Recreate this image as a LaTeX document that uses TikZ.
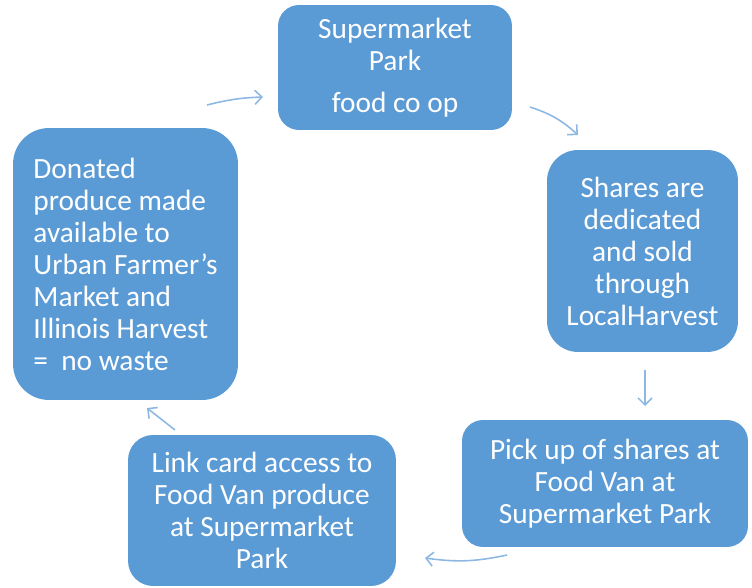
\documentclass[tikz,border=0pt]{standalone}
\usepackage{fontspec}
\setmainfont{Carlito}
\usetikzlibrary{arrows.meta}
\definecolor{boxblue}{HTML}{5B9BD5}
\definecolor{arrowblue}{HTML}{8DB8E4}

\begin{document}
\begin{tikzpicture}[
  x=0.02cm, y=-0.02cm,
  box/.style={fill=boxblue, text=white, align=center, inner sep=0pt,
    font=\fontsize{16.7}{18.2}\selectfont},
  flow/.style={arrowblue, line width=0.9pt, -{Straight Barb[length=4pt,width=8pt]}}
]
\useasboundingbox (0,0) rectangle (752,588);

% the five stages of the cycle
\node[box, minimum width=4.68cm, minimum height=2.5cm, rounded corners=0.42cm]
  (coop) at (395,67.5) {Supermarket\\Park\\[6pt]food co op};
\node[box, minimum width=3.82cm, minimum height=4.04cm, rounded corners=0.62cm]
  (shares) at (642.5,251) {Shares are\\dedicated\\and sold\\through\\LocalHarvest};
\node[box, minimum width=5.72cm, minimum height=2.54cm, rounded corners=0.42cm]
  (pickup) at (605,483.5) {Pick up of shares at\\Food Van at\\Supermarket Park};
\node[box, minimum width=5.36cm, minimum height=3.02cm, rounded corners=0.5cm]
  (link) at (262,510.5) {Link card access to\\Food Van produce\\at Supermarket\\Park};
\node[box, minimum width=4.5cm, minimum height=5.44cm, rounded corners=0.72cm, align=left]
  (donated) at (125.5,264) {Donated\\produce made\\available to\\Urban Farmer’s\\Market and\\Illinois Harvest\\=\ \ no waste};

% arrow ends in the gaps between boxes
\coordinate (d2c) at (207,105);  \coordinate (c2d) at (263,97);
\coordinate (c2s) at (530,107);  \coordinate (s2c) at (578,135);
\coordinate (s2p) at (645,370);  \coordinate (p2s) at (645,406);
\coordinate (p2l) at (507,555);  \coordinate (l2p) at (425,558);
\coordinate (l2d) at (175,430);  \coordinate (d2l) at (147,408);

% cycle arrows
\draw[flow, bend left=6] (d2c) to (c2d);
\draw[flow, bend left=12] (c2s) to (s2c);
\draw[flow] (s2p) -- (p2s);
\draw[flow, bend left=10] (p2l) to (l2p);
\draw[flow] (l2d) -- (d2l);

\end{tikzpicture}
\end{document}
